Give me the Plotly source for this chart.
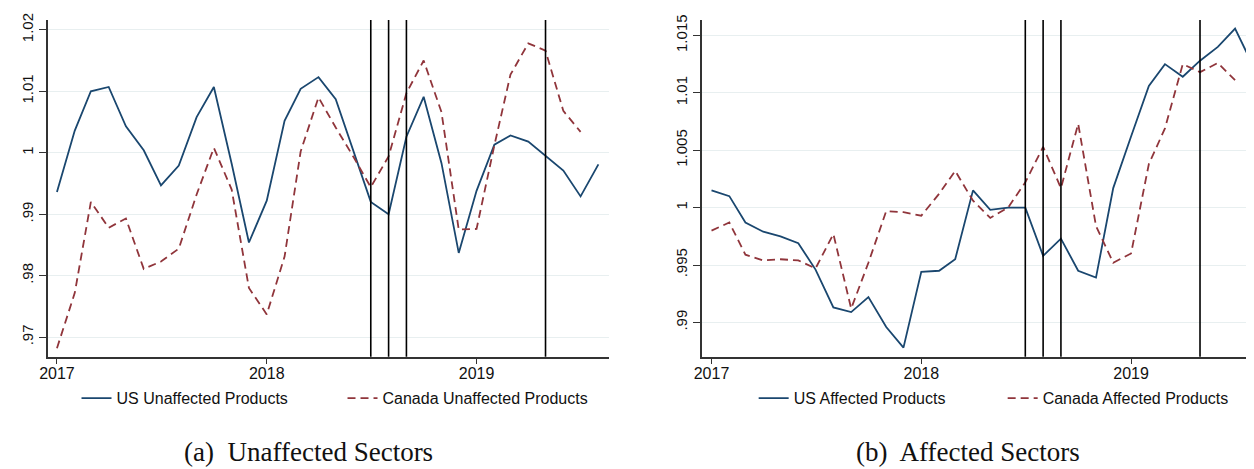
import pandas as pd
import plotly.graph_objects as go

months = pd.date_range("2017-01-01", periods=32, freq="MS")

us_unaffected = [0.9936, 1.0036, 1.0100, 1.0107, 1.0043, 1.0004, 0.9947, 0.9979,
                 1.0058, 1.0107, 0.9982, 0.9854, 0.9922, 1.0052, 1.0104, 1.0123,
                 1.0087, 1.0003, 0.9920, 0.9900, 1.0026, 1.0091, 0.9983, 0.9837,
                 0.9938, 1.0013, 1.0028, 1.0018, 0.9995, 0.9971, 0.9929, 0.9981]
ca_unaffected = [0.9682, 0.9772, 0.9920, 0.9878, 0.9893, 0.9811, 0.9823, 0.9844,
                 0.9932, 1.0008, 0.9940, 0.9780, 0.9737, 0.9831, 1.0002, 1.0090,
                 1.0041, 0.9993, 0.9944, 0.9994, 1.0097, 1.0150, 1.0066, 0.9875,
                 0.9876, 1.0012, 1.0127, 1.0178, 1.0166, 1.0068, 1.0034]
us_affected = [1.0015, 1.0010, 0.9987, 0.9979, 0.9975, 0.9969, 0.9946, 0.9913,
               0.9909, 0.9922, 0.9896, 0.9878, 0.9944, 0.9945, 0.9955, 1.0015,
               0.9998, 1.0000, 1.0000, 0.9958, 0.9973, 0.9945, 0.9939, 1.0017,
               1.0062, 1.0106, 1.0125, 1.0114, 1.0128, 1.0140, 1.0156, 1.0124]
ca_affected = [0.9980, 0.9987, 0.9959, 0.9954, 0.9955, 0.9954, 0.9947, 0.9977,
               0.9912, 0.9952, 0.9997, 0.9996, 0.9993, 1.0012, 1.0032, 1.0006,
               0.9991, 1.0000, 1.0022, 1.0053, 1.0017, 1.0073, 0.9984, 0.9952,
               0.9960, 1.0038, 1.0069, 1.0125, 1.0118, 1.0126, 1.0111]

event_dates = ["2018-07-01", "2018-08-01", "2018-09-01", "2019-05-01"]

left_ticks = [0.97, 0.98, 0.99, 1.00, 1.01, 1.02]
left_ticktext = [".97", ".98", ".99", "1", "1.01", "1.02"]
right_ticks = [0.99, 0.995, 1.00, 1.005, 1.01, 1.015]
right_ticktext = [".99", ".995", "1", "1.005", "1.01", "1.015"]
year_ticks = ["2017-01-01", "2018-01-01", "2019-01-01"]
year_text = ["2017", "2018", "2019"]

NAVY = "#1a476f"
MAROON = "#90353b"
GRID = "#e8eff0"
AXIS = "#333333"

fig = go.Figure()
fig.add_trace(go.Scatter(x=months, y=us_unaffected, mode="lines", name="US Unaffected Products",
                         line=dict(color=NAVY, width=1.8), xaxis="x", yaxis="y", legend="legend"))
fig.add_trace(go.Scatter(x=months[:len(ca_unaffected)], y=ca_unaffected, mode="lines",
                         name="Canada Unaffected Products",
                         line=dict(color=MAROON, width=1.8, dash="8px,5px"), xaxis="x", yaxis="y", legend="legend"))
fig.add_trace(go.Scatter(x=months, y=us_affected, mode="lines", name="US Affected Products",
                         line=dict(color=NAVY, width=1.8), xaxis="x2", yaxis="y2", legend="legend2"))
fig.add_trace(go.Scatter(x=months[:len(ca_affected)], y=ca_affected, mode="lines",
                         name="Canada Affected Products",
                         line=dict(color=MAROON, width=1.8, dash="8px,5px"), xaxis="x2", yaxis="y2", legend="legend2"))

for xr, yr in (("x", "y"), ("x2", "y2")):
    for d in event_dates:
        fig.add_shape(type="line", xref=xr, yref=f"{yr} domain", x0=d, x1=d, y0=0, y1=1,
                      line=dict(color="black", width=1.6), layer="above")

tickfont = dict(family="Liberation Sans, Arial, sans-serif", size=16, color="#111111")
ytickfont = dict(family="Liberation Sans, Arial, sans-serif", size=15, color="#111111")
xcommon = dict(type="date", tickvals=year_ticks, ticktext=year_text, showgrid=False,
               showline=True, linecolor=AXIS, linewidth=1.5, ticks="outside", ticklen=5,
               tickcolor=AXIS, tickfont=tickfont, zeroline=False, ticklabelstandoff=-4)
ycommon = dict(showgrid=True, gridcolor=GRID, gridwidth=1.2, showline=True, linecolor=AXIS,
               linewidth=1.5, ticks="outside", ticklen=7, tickcolor=AXIS, tickangle=-90,
               tickfont=ytickfont, zeroline=False, ticklabeloverflow="allow")

legfont = dict(family="Liberation Sans, Arial, sans-serif", size=16, color="#111111")

fig.update_layout(
    width=1254, height=469,
    margin=dict(l=0, r=0, t=0, b=0),
    paper_bgcolor="white", plot_bgcolor="white",
    xaxis=dict(domain=[0.0247, 0.4753], range=["2016-12-16", "2019-08-19"], anchor="y", **xcommon),
    yaxis=dict(domain=[0.2601, 0.9893], range=[0.9668, 1.0216], tickvals=left_ticks,
               ticktext=left_ticktext, anchor="x", **ycommon),
    xaxis2=dict(domain=[0.55, 0.9936], range=["2016-12-15", "2019-08-03"], anchor="y2", **xcommon),
    yaxis2=dict(domain=[0.2601, 0.9893], range=[0.987, 1.01635], tickvals=right_ticks,
                ticktext=right_ticktext, anchor="x2", **ycommon),
    legend=dict(orientation="h", x=0.0478, y=0.1706, xanchor="left", yanchor="middle",
                font=legfont, bgcolor="rgba(0,0,0,0)", entrywidth=221),
    legend2=dict(orientation="h", x=0.5917, y=0.1706, xanchor="left", yanchor="middle",
                 font=legfont, bgcolor="rgba(0,0,0,0)", entrywidth=204),
    annotations=[
        dict(text="(a)  Unaffected Sectors", x=(302 - 8) / 1254, y=1 - (452 - 8) / 469,
             xref="paper", yref="paper",
             showarrow=False, xanchor="center", yanchor="middle",
             font=dict(family="Liberation Serif, DejaVu Serif, serif", size=27, color="#111111")),
        dict(text="(b)  Affected Sectors", x=(966 - 8) / 1254, y=1 - (452 - 8) / 469,
             xref="paper", yref="paper",
             showarrow=False, xanchor="center", yanchor="middle",
             font=dict(family="Liberation Serif, DejaVu Serif, serif", size=27, color="#111111")),
    ],
)

fig.write_html("out.html")
